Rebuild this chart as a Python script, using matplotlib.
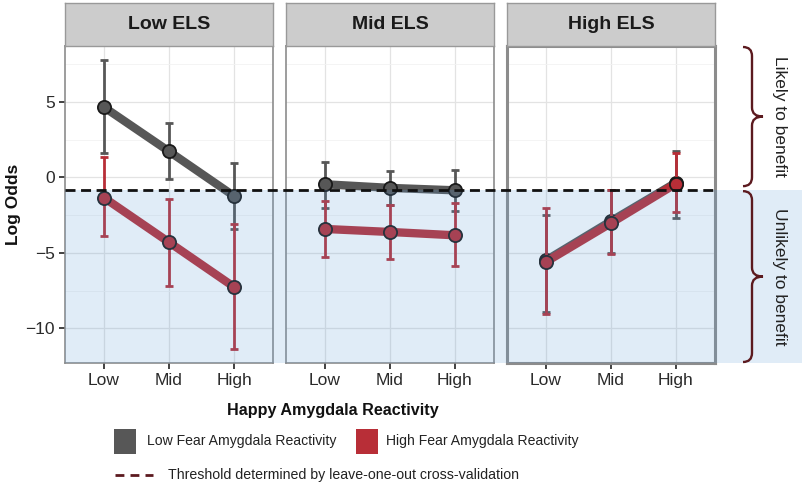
import numpy as np
import matplotlib.pyplot as plt
from matplotlib.patches import Rectangle, PathPatch
from matplotlib.path import Path

plt.rcParams['font.family'] = ['Liberation Sans', 'DejaVu Sans']

panels = ['Low ELS', 'Mid ELS', 'High ELS']
levels = ['Low', 'Mid', 'High']
threshold = -0.85

# low fear amygdala reactivity (gray series), one row per ELS panel
low_fear = [[4.65, 1.72, -1.24], [-0.46, -0.70, -0.86], [-5.50, -2.90, -0.35]]
low_fear_hi = [[7.75, 3.57, 0.93], [1.00, 0.40, 0.46], [-2.47, -0.86, 1.72]]
low_fear_lo = [[1.60, -0.10, -3.45], [-2.00, -1.80, -2.20], [-8.95, -5.00, -2.70]]
# high fear amygdala reactivity (red series)
high_fear = [[-1.35, -4.30, -7.26], [-3.42, -3.62, -3.84], [-5.60, -3.03, -0.42]]
high_fear_hi = [[1.34, -1.46, -3.07], [-1.55, -1.83, -1.70], [-2.00, -0.86, 1.63]]
high_fear_lo = [[-3.90, -7.17, -11.40], [-5.30, -5.38, -5.87], [-9.07, -5.10, -2.30]]

gray = '#575757'
red = '#B82E37'

W, H = 802, 487
fig = plt.figure(figsize=(W / 100, H / 100), dpi=100)

pan_left = [65, 286, 507]
pan_w = 208
pan_top, pan_bot, strip_top = 46, 363, 3

axes = []
x = np.arange(1, 4)
for i, name in enumerate(panels):
    ax = fig.add_axes([pan_left[i] / W, 1 - pan_bot / H, pan_w / W, (pan_bot - pan_top) / H])
    axes.append(ax)
    ax.set_xlim(0.4, 3.6)
    ax.set_ylim(-12.3, 8.7)
    ax.set_xticks(x)
    ax.set_xticklabels(levels)
    ax.set_yticks([-10, -5, 0, 5])
    ax.set_yticks([-7.5, -2.5, 2.5, 7.5], minor=True)
    ax.set_xticks([], minor=True)
    ax.grid(which='major', color='#E3E3E3', lw=0.9)
    ax.grid(which='minor', axis='y', color='#F2F2F2', lw=0.6)
    ax.set_axisbelow(True)
    ax.tick_params(which='major', length=4.5, width=1.3, color='#333333',
                   labelsize=12.5, labelcolor='#2a2a2a', pad=3)
    ax.tick_params(which='minor', length=0)
    if i > 0:
        ax.tick_params(axis='y', length=0, labelleft=False)
    for s in ax.spines.values():
        s.set_color('#8c8c8c')
        s.set_linewidth(2.2 if i == 2 else 1.2)

    series = [(low_fear, low_fear_lo, low_fear_hi, gray),
              (high_fear, high_fear_lo, high_fear_hi, red)]
    for k, (m, lo, hi, c) in enumerate(series):
        y = np.array(m[i])
        err = [y - np.array(lo[i]), np.array(hi[i]) - y]
        z = 3 + k * 3
        ax.errorbar(x, y, yerr=err, fmt='none', ecolor=c, elinewidth=2,
                    capsize=2.6, capthick=2, zorder=z)
        ax.plot(x, y, '-', color=c, lw=6, solid_capstyle='butt', zorder=z + 1)
        ax.plot(x, y, 'o', ms=9.5, mfc=c, mec='#1a1a1a', mew=1.3, zorder=z + 2)

    # strip
    sax = fig.add_axes([pan_left[i] / W, 1 - pan_top / H, pan_w / W, (pan_top - strip_top) / H])
    sax.set_facecolor('#CCCCCC')
    sax.set_xticks([])
    sax.set_yticks([])
    for s in sax.spines.values():
        s.set_color('#999999')
        s.set_linewidth(1.0)
    sax.text(0.5, 0.5, name, ha='center', va='center', fontsize=14,
             fontweight='bold', color='#1a1a1a', transform=sax.transAxes)

# overlay in pixel coords (y downward)
ov = fig.add_axes([0, 0, 1, 1], zorder=10)
ov.set_xlim(0, W)
ov.set_ylim(H, 0)
ov.axis('off')
ov.patch.set_alpha(0)

thr_disp = axes[0].transData.transform((1, threshold))
y_thr = H - thr_disp[1]
ov.add_patch(Rectangle((pan_left[0], y_thr), W - pan_left[0], pan_bot - y_thr,
                       facecolor='#5B9BD5', alpha=0.19, lw=0, zorder=1))
ov.plot([pan_left[0], pan_left[2] + pan_w], [y_thr, y_thr], color='#111111',
        lw=2, dashes=(3.6, 2), zorder=2)


def brace(x0, y1, y2, wl=9, wr=11, color='#5C1A1F'):
    ym = (y1 + y2) / 2
    r = 9
    verts = [(x0 - wl, y1), (x0, y1), (x0, y1 + r),
             (x0, ym - r), (x0, ym), (x0 + wr, ym),
             (x0, ym), (x0, ym + r),
             (x0, y2 - r), (x0, y2), (x0 - wl, y2)]
    codes = [Path.MOVETO, Path.CURVE3, Path.CURVE3,
             Path.LINETO, Path.CURVE3, Path.CURVE3,
             Path.CURVE3, Path.CURVE3,
             Path.LINETO, Path.CURVE3, Path.CURVE3]
    ov.add_patch(PathPatch(Path(verts, codes), facecolor='none', edgecolor=color,
                           lw=1.7, zorder=3))


brace(752, 47, y_thr - 4)
brace(752, y_thr + 1, 362)
ov.text(779, (47 + y_thr - 4) / 2, 'Likely to benefit', rotation=-90,
        ha='center', va='center', fontsize=12.5, color='#222222')
ov.text(779, (y_thr + 1 + 362) / 2, 'Unlikely to benefit', rotation=-90,
        ha='center', va='center', fontsize=12.5, color='#222222')

# axis titles
ov.text(333, 410, 'Happy Amygdala Reactivity', ha='center', va='center',
        fontsize=11.6, fontweight='bold', color='#111111')
ov.text(14, 204, 'Log Odds', ha='center', va='center', rotation=90,
        fontsize=12.5, fontweight='bold', color='#111111')

# legend
ov.add_patch(Rectangle((114, 429), 22, 25, facecolor=gray, edgecolor='none'))
ov.text(147, 441.5, 'Low Fear Amygdala Reactivity', ha='left', va='center',
        fontsize=10.1, color='#222222')
ov.add_patch(Rectangle((356, 429), 22, 25, facecolor=red, edgecolor='none'))
ov.text(386, 441.5, 'High Fear Amygdala Reactivity', ha='left', va='center',
        fontsize=10.1, color='#222222')
ov.plot([115, 153], [475, 475], color='#5C1A1F', lw=2, dashes=(3.2, 2.2),
        solid_capstyle='butt', dash_capstyle='butt')
ov.text(168, 475, 'Threshold determined by leave-one-out cross-validation',
        ha='left', va='center', fontsize=10.2, color='#222222')

fig.savefig('out.png', dpi=100)
